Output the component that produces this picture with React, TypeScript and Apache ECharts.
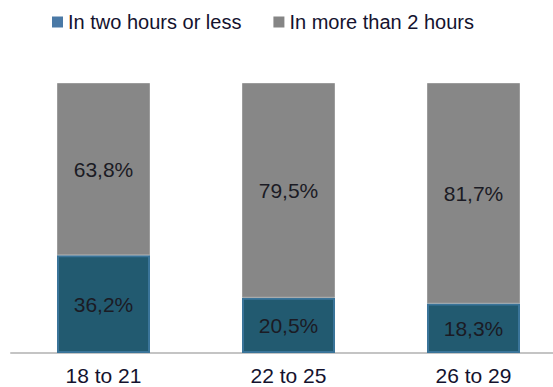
import React, { useEffect, useRef } from "react";
import * as echarts from "echarts";

const categories = ["18 to 21", "22 to 25", "26 to 29"];
const twoHoursOrLess = [36.2, 20.5, 18.3];
const moreThanTwoHours = [63.8, 79.5, 81.7];
const seriesNames = ["In two hours or less", "In more than 2 hours"];

const FONT = "'Liberation Sans', Arial, sans-serif";
const fmt = (v: number) => v.toFixed(1).replace(".", ",") + "%";

export default function App() {
  const ref = useRef<HTMLDivElement>(null);

  useEffect(() => {
    if (!ref.current) return;
    const chart = echarts.init(ref.current, undefined, { renderer: "svg" });
    const label = {
      show: true,
      position: "inside" as const,
      color: "#1b1b24",
      fontSize: 21,
      fontFamily: FONT,
      formatter: (p: any) => fmt(p.value),
    };
    chart.setOption({
      animation: false,
      backgroundColor: "#ffffff",
      legend: {
        top: 12,
        left: 52,
        padding: 0,
        itemWidth: 11,
        itemHeight: 11,
        itemGap: 32,
        icon: "rect",
        textStyle: { color: "#14122e", fontSize: 20, fontFamily: FONT },
        data: [
          { name: seriesNames[0], itemStyle: { color: "#4a79a6", borderWidth: 0 } },
          { name: seriesNames[1], itemStyle: { color: "#858585", borderWidth: 0 } },
        ],
      },
      grid: {
        left: 11,
        width: 555,
        top: 83,
        height: 270,
        containLabel: false,
        outerBoundsMode: "none",
      },
      xAxis: {
        type: "category",
        data: categories,
        axisLine: { show: true, lineStyle: { color: "#c4c4c4", width: 2 } },
        axisTick: { show: false },
        axisLabel: { color: "#14122e", fontSize: 21, fontFamily: FONT, margin: 12 },
      },
      yAxis: {
        type: "value",
        min: 0,
        max: 100,
        show: false,
        splitLine: { show: false },
      },
      series: [
        {
          name: seriesNames[0],
          type: "bar",
          stack: "total",
          barWidth: 93,
          data: twoHoursOrLess,
          itemStyle: { color: "#225a70", borderColor: "#3a7499", borderWidth: 2 },
          label,
        },
        {
          name: seriesNames[1],
          type: "bar",
          stack: "total",
          barWidth: 93,
          data: moreThanTwoHours,
          itemStyle: { color: "#878787", borderColor: "#9c9c9c", borderWidth: 1 },
          label,
        },
      ],
    });
    return () => chart.dispose();
  }, []);

  return (
    <div
      ref={ref}
      style={{ position: "absolute", left: 0, top: 0, width: 553, height: 387, overflow: "hidden" }}
    />
  );
}
